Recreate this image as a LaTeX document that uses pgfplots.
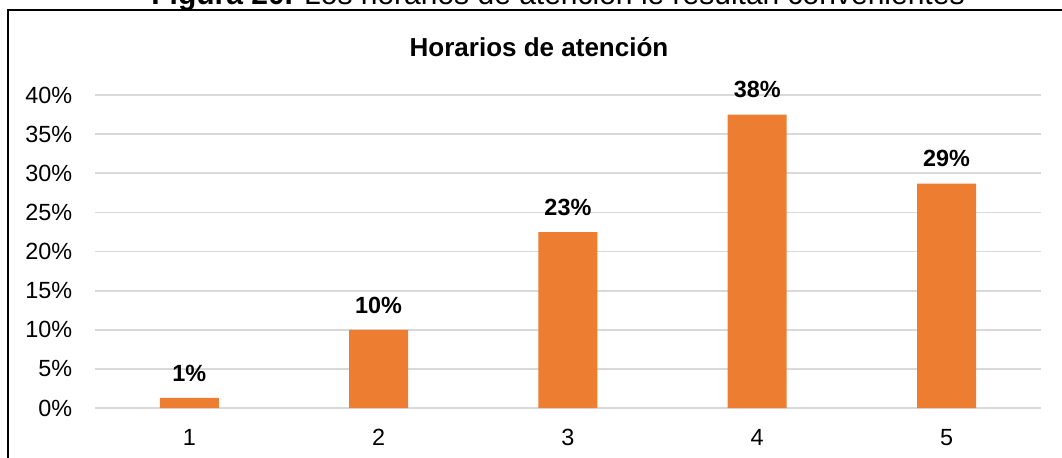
\documentclass[border=0pt]{standalone}
\usepackage{pgfplots}
\pgfplotsset{compat=1.18}
\usepackage{fontspec}
\setmainfont{Liberation Sans}
\definecolor{barorange}{HTML}{ED7D31}
\definecolor{gridgray}{HTML}{D9D9D9}
\begin{document}
\begin{tikzpicture}[x=1bp,y=1bp]
\useasboundingbox (0,0) rectangle (531,228.5);
\clip (0,0) rectangle (531,228.5);
\node[anchor=base, inner sep=0pt, font=\fontsize{15bp}{18bp}\selectfont] at (279,226.3) {\textbf{Figura 20.} Los horarios de atención le resultan convenientes};
\draw[line width=1bp] (4,-5) -- (4,223.25) -- (540,223.25);
\node[anchor=base, inner sep=0pt, font=\fontsize{13bp}{15bp}\selectfont\bfseries] at (269.5,200.5) {Horarios de atención};
\begin{axis}[
  at={(50,62.5)}, anchor=south west,
  scale only axis, width=473.25bp, height=156.5bp,
  xmin=0.5, xmax=5.5, ymin=0, ymax=40,
  axis line style={draw=none},
  major tick length=0pt,
  xtick={1,2,3,4,5},
  ytick={0,5,10,15,20,25,30,35,40},
  yticklabels={0\%,5\%,10\%,15\%,20\%,25\%,30\%,35\%,40\%},
  /pgf/number format/assume math mode=true,
  ymajorgrids,
  grid style={gridgray, line width=0.9bp},
  tick label style={font=\fontsize{11.7bp}{14bp}\selectfont},
  yticklabel style={anchor=east, inner sep=0pt, xshift=-11bp},
  xticklabel style={anchor=north, inner sep=0pt, yshift=-10.5bp},
  clip=false,
  ybar, bar width=29.5bp,
  nodes near coords,
  point meta=explicit symbolic,
  every node near coord/.append style={anchor=south, inner sep=0pt, yshift=8bp, font=\fontsize{11.7bp}{14bp}\selectfont\bfseries, text=black},
]
\addplot[fill=barorange, draw=none, bar shift=0pt] table[meta=label] {
x y label
1 1.3 1\%
2 10.0 10\%
3 22.5 23\%
4 37.5 38\%
5 28.7 29\%
};
\end{axis}
\end{tikzpicture}
\end{document}
